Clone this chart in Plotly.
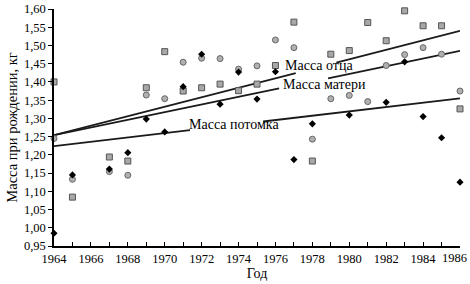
import plotly.graph_objects as go

years = [1964, 1965, 1967, 1968, 1969, 1970, 1971, 1972, 1973, 1974, 1975,
         1976, 1977, 1978, 1979, 1980, 1981, 1982, 1983, 1984, 1985, 1986]
father = [1.400, 1.084, 1.194, 1.183, 1.384, 1.483, 1.375, 1.384, 1.394, 1.376, 1.394,
          1.445, 1.564, 1.183, 1.476, 1.486, 1.563, 1.513, 1.595, 1.554, 1.554, 1.326]
mother = [1.245, 1.133, 1.154, 1.144, 1.364, 1.354, 1.454, 1.465, 1.464, 1.435, 1.444,
          1.515, 1.494, 1.243, 1.354, 1.363, 1.346, 1.445, 1.475, 1.494, 1.476, 1.375]
off_years = [1964, 1965, 1967, 1968, 1969, 1970, 1971, 1972, 1973, 1974, 1975,
             1976, 1977, 1978, 1980, 1982, 1983, 1984, 1985, 1986]
offspring = [0.985, 1.145, 1.161, 1.206, 1.298, 1.263, 1.387, 1.476, 1.339, 1.427, 1.353,
             1.428, 1.187, 1.285, 1.309, 1.344, 1.455, 1.305, 1.247, 1.125]

x_tickvals = [1964, 1966, 1968, 1970, 1972, 1974, 1976, 1978, 1980, 1982, 1984, 1986]
x_ticktext = ["1964", "1966", "1968", "1970", "1972", "1974", "1976", "1978",
              "1980", "1982", "1984", "1986"]

# trend lines (start 1964, end 1986) and label gaps
trend_ends = [1964, 1986]
father_trend = [1.254, 1.540]
mother_trend = [1.254, 1.485]
offspring_trend = [1.224, 1.355]
father_gap = [1977.1, 1979.3]
mother_gap = [1976.2, 1978.85]
offspring_gap = [1971.37, 1975.33]

labels = ["Масса отца", "Масса матери", "Масса потомка"]
label_x = [1976.4, 1976.3, 1971.2]
label_y = [1.444, 1.394, 1.282]

FONT = "Liberation Serif, Times New Roman, serif"

def line_at(tr, x):
    x0, x1 = trend_ends
    return tr[0] + (tr[1] - tr[0]) * (x - x0) / (x1 - x0)

fig = go.Figure()

for tr, gap in [(father_trend, father_gap), (mother_trend, mother_gap),
                (offspring_trend, offspring_gap)]:
    xs = [trend_ends[0], gap[0], None, gap[1], trend_ends[1]]
    ys = [line_at(tr, trend_ends[0]), line_at(tr, gap[0]), None,
          line_at(tr, gap[1]), line_at(tr, trend_ends[1])]
    fig.add_trace(go.Scatter(x=xs, y=ys, mode="lines",
                             line=dict(color="#1a1a1a", width=1.8),
                             hoverinfo="skip", cliponaxis=False))

fig.add_trace(go.Scatter(x=years, y=father, mode="markers", name="father",
                         marker=dict(symbol="square", size=6, color="#a8a8a8",
                                     line=dict(color="#555555", width=1)),
                         cliponaxis=False))
fig.add_trace(go.Scatter(x=years, y=mother, mode="markers", name="mother",
                         marker=dict(symbol="circle", size=6, color="#b0b0b0",
                                     line=dict(color="#666666", width=1)),
                         cliponaxis=False))
fig.add_trace(go.Scatter(x=off_years, y=offspring, mode="markers", name="offspring",
                         marker=dict(symbol="diamond", size=5.5, color="#000000"),
                         cliponaxis=False))

for t, lx, ly in zip(labels, label_x, label_y):
    fig.add_annotation(x=lx, y=ly, text=t, showarrow=False, xanchor="left",
                       yanchor="middle", font=dict(family=FONT, size=14, color="#000"))

# last x tick label, kept inside the page edge
fig.add_annotation(x=x_tickvals[-1], y=0, xref="x", yref="paper", text=x_ticktext[-1],
                   showarrow=False, xanchor="right", yanchor="top", xshift=9, yshift=-3,
                   font=dict(family=FONT, size=12.5, color="#000"))

fig.update_layout(
    width=470, height=284,
    margin=dict(l=54, r=10, t=9, b=38),
    paper_bgcolor="white", plot_bgcolor="white",
    showlegend=False,
    separators=", ",
    font=dict(family=FONT, size=12, color="#000"),
    xaxis=dict(range=[1964, 1986], tickvals=x_tickvals,
               ticktext=x_ticktext[:-1] + [""], ticks="inside", ticklen=4,
               tickcolor="#000", showline=True, linecolor="#000", linewidth=1.5,
               showgrid=False, zeroline=False, tickfont=dict(family=FONT, size=12.5),
               automargin=False,
               minor=dict(dtick=1, ticks="inside", ticklen=4, tickcolor="#000"),
               title=dict(text="Год", font=dict(family=FONT, size=14), standoff=0)),
    yaxis=dict(range=[0.95, 1.60], tick0=0.95, dtick=0.05, tickformat=".2f",
               ticks="outside", ticklen=4, tickcolor="#000",
               showline=True, linecolor="#000", linewidth=1.5, automargin=False,
               showgrid=False, zeroline=False, tickfont=dict(family=FONT, size=12.5),
               title=dict(text="Масса при рождении, кг", font=dict(family=FONT, size=14.5),
                          standoff=3)),
)

fig.write_html("out.html", config={"displayModeBar": False},
               post_script="document.body.style.margin='0';document.body.style.overflow='hidden';")
